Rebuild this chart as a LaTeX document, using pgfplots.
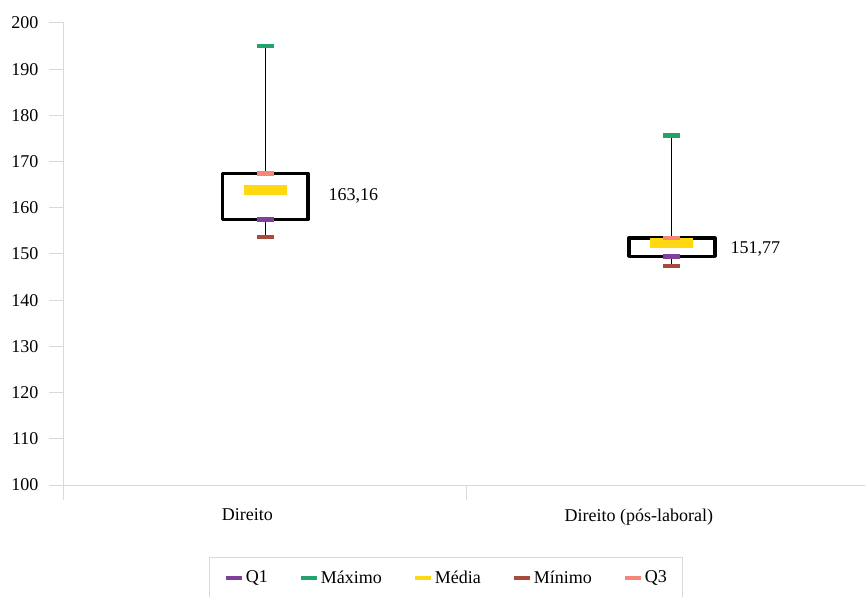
\documentclass[border=0pt]{standalone}
\usepackage{pgfplots}
\pgfplotsset{compat=1.18}
\usepackage{fontspec}
\setmainfont{Liberation Serif}
\definecolor{q1c}{HTML}{7E3F9D}
\definecolor{maxc}{HTML}{21A36B}
\definecolor{meanc}{HTML}{FFD80F}
\definecolor{minc}{HTML}{A84A3C}
\definecolor{q3c}{HTML}{F4877A}
\definecolor{axc}{HTML}{D9D9D9}
\begin{document}
\begin{tikzpicture}[font=\fontsize{18pt}{21pt}\selectfont]
\useasboundingbox (-64pt,-112pt) rectangle (801pt,485pt);
\begin{axis}[
  at={(0pt,0pt)}, anchor=south west,
  scale only axis, width=801pt, height=462pt,
  xmin=0.5, xmax=2.49, ymin=100, ymax=200,
  ytick={100,110,...,200},
  /pgf/number format/assume math mode=true,
  yticklabel style={xshift=-7pt},
  xtick={0.5,1.5,2.5},
  xticklabels={},
  extra x ticks={1,2},
  extra x tick labels={Direito\makebox[36pt]{}, Direito (pós-laboral)\makebox[58pt]{}},
  extra x tick style={major tick length=0pt, xticklabel style={yshift=-20pt}},
  axis lines=left,
  axis line style={draw=axc, line width=1pt, -},
  tick align=outside,
  major tick length=15pt,
  every tick/.style={draw=axc, line width=1pt},
  clip=false,
  legend columns=5,
  legend style={at={(0.4775,-0.156)}, anchor=north, draw=axc, line width=1pt,
    inner xsep=14pt, inner ysep=11pt,
    /tikz/every even column/.append style={column sep=29pt}},
  legend cell align=left,
]
% whiskers
\addplot[forget plot, black, line width=1.4pt] coordinates {(1,153.7) (1,195.0)};
\addplot[forget plot, black, line width=1.4pt] coordinates {(2.01,147.4) (2.01,175.7)};
% boxes (fill white to hide whisker inside)
\addplot[forget plot, black, fill=white, line width=3.5pt, line join=round]
  coordinates {(1,157.5) (1.1068,157.5) (1.1068,167.4) (0.8932,167.4) (0.8932,157.5) (1,157.5)};
\addplot[forget plot, black, fill=white, line width=3.5pt, line join=round]
  coordinates {(2.01,149.5) (2.1168,149.5) (2.1168,153.45) (1.9032,153.45) (1.9032,149.5) (2.01,149.5)};
% stats
\addplot[only marks, mark=-, mark size=8.5pt, color=q1c, mark options={line width=4.5pt},
  legend image code/.code={\draw[line width=4pt, q1c] (0pt,0pt) -- (16pt,0pt);}]
  coordinates {(1,157.5) (2.01,149.5)};
\addlegendentry{Q1}
\addplot[only marks, mark=-, mark size=8.5pt, color=maxc, mark options={line width=4.5pt},
  legend image code/.code={\draw[line width=4pt, maxc] (0pt,0pt) -- (16pt,0pt);}]
  coordinates {(1,195.0) (2.01,175.7)};
\addlegendentry{Máximo}
\addplot[only marks, mark=-, mark size=21.5pt, color=meanc, mark options={line width=10pt},
  legend image code/.code={\draw[line width=4pt, meanc] (0pt,0pt) -- (16pt,0pt);}]
  coordinates {(1,163.8) (2.01,152.3)};
\addlegendentry{Média}
\addplot[only marks, mark=-, mark size=8.5pt, color=minc, mark options={line width=4.5pt},
  legend image code/.code={\draw[line width=4pt, minc] (0pt,0pt) -- (16pt,0pt);}]
  coordinates {(1,153.7) (2.01,147.4)};
\addlegendentry{Mínimo}
\addplot[only marks, mark=-, mark size=8.5pt, color=q3c, mark options={line width=4.5pt},
  legend image code/.code={\draw[line width=4pt, q3c] (0pt,0pt) -- (16pt,0pt);}]
  coordinates {(1,167.4) (2.01,153.45)};
\addlegendentry{Q3}
% labels
\addplot[forget plot, only marks, mark=none, point meta=explicit symbolic,
  nodes near coords, every node near coord/.append style={anchor=west, black, xshift=3pt, yshift=-3pt}]
  table[meta=lab] {
x y lab
1.141 163.16 163,16
2.14 151.77 151,77
};
\end{axis}
\end{tikzpicture}
\end{document}
